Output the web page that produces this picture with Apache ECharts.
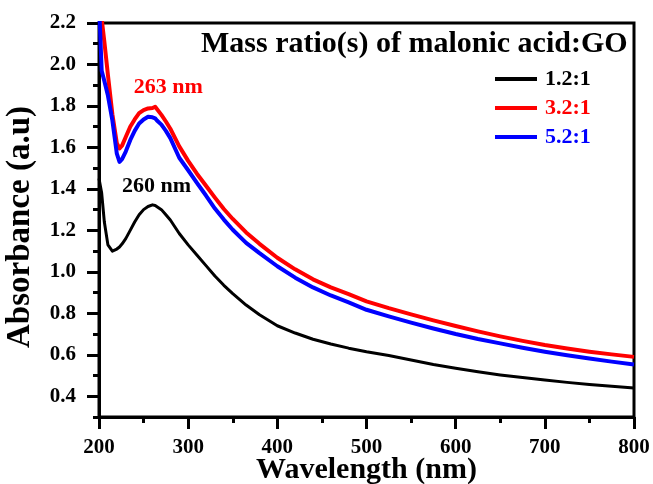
<!DOCTYPE html>
<html>
<head>
<meta charset="utf-8">
<script src="https://cdn.jsdelivr.net/npm/echarts@6/dist/echarts.min.js"></script>
<style>
  html, body { margin: 0; padding: 0; background: #fff; }
  #chart { width: 653px; height: 484px; }
</style>
</head>
<body>
<div id="chart"></div>
<script>
// UV-Vis absorbance spectra of GO treated with malonic acid at three mass ratios
const wavelengths = [200, 203, 206, 210, 215, 220, 223, 226, 230, 235, 240, 245, 250, 255, 260, 263, 265, 270, 275, 280,
  290, 300, 310, 320, 330, 340, 350, 365, 380, 400, 420, 440, 460, 480, 500, 525, 550, 575, 600,
  625, 650, 675, 700, 725, 750, 775, 800];

const absorbance_1_2 = [1.45, 1.38, 1.24, 1.13, 1.10, 1.11, 1.12, 1.135, 1.16, 1.20, 1.24, 1.275, 1.30, 1.315, 1.323, 1.32, 1.315, 1.30, 1.275, 1.25,
  1.185, 1.13, 1.08, 1.03, 0.98, 0.935, 0.895, 0.84, 0.793, 0.74, 0.705, 0.675, 0.652, 0.632, 0.615, 0.597, 0.575, 0.553, 0.535,
  0.518, 0.503, 0.49, 0.478, 0.467, 0.457, 0.448, 0.44];

const absorbance_3_2 = [2.40, 2.22, 2.11, 1.95, 1.76, 1.62, 1.595, 1.61, 1.65, 1.70, 1.735, 1.765, 1.78, 1.788, 1.79, 1.796, 1.787, 1.757, 1.725, 1.69,
  1.605, 1.535, 1.472, 1.415, 1.358, 1.303, 1.255, 1.19, 1.135, 1.068, 1.012, 0.964, 0.925, 0.893, 0.858, 0.825, 0.795, 0.766, 0.739,
  0.713, 0.689, 0.667, 0.647, 0.630, 0.615, 0.602, 0.59];

const absorbance_5_2 = [2.30, 1.97, 1.92, 1.85, 1.73, 1.57, 1.53, 1.545, 1.58, 1.635, 1.68, 1.715, 1.735, 1.748, 1.745, 1.74, 1.73, 1.71, 1.68, 1.645,
  1.55, 1.49, 1.428, 1.368, 1.305, 1.252, 1.203, 1.14, 1.09, 1.027, 0.972, 0.925, 0.886, 0.853, 0.817, 0.785, 0.755, 0.727, 0.70,
  0.676, 0.655, 0.634, 0.615, 0.598, 0.582, 0.567, 0.553];

const seriesNames = ['1.2:1', '3.2:1', '5.2:1'];
const seriesColors = ['#000000', '#ff0000', '#0000ff'];

// peak annotations: [wavelength, absorbance]
const peak_1_2 = [260, 1.323];
const peak_3_2 = [263, 1.796];

// y-axis tick values
const yMajorTicks = [0.4, 0.6, 0.8, 1.0, 1.2, 1.4, 1.6, 1.8, 2.0, 2.2];
const yMinorTicks = [0.3, 0.5, 0.7, 0.9, 1.1, 1.3, 1.5, 1.7, 1.9, 2.1];

const FONT = "'Liberation Serif', 'Times New Roman', serif";

function pairs(xs, ys) {
  return xs.map((x, i) => [x, ys[i]]);
}

const chart = echarts.init(document.getElementById('chart'), null, { renderer: 'canvas' });

function lineSeries(name, values, color, width, z) {
  return {
    name: name,
    type: 'line',
    data: pairs(wavelengths, values),
    symbol: 'none',
    showSymbol: false,
    smooth: false,
    clip: true,
    z: z,
    lineStyle: { color: color, width: width, join: 'round' },
    itemStyle: { color: color }
  };
}

const s1 = lineSeries(seriesNames[0], absorbance_1_2, seriesColors[0], 3, 2);
s1.markPoint = {
  symbol: 'circle', symbolSize: 0,
  data: [{ coord: peak_1_2 }],
  label: {
    show: true, position: 'inside', offset: [4, -19],
    formatter: () => peak_1_2[0] + ' nm',
    color: '#000', fontFamily: FONT, fontWeight: 'bold', fontSize: 22
  }
};
const s2 = lineSeries(seriesNames[1], absorbance_3_2, seriesColors[1], 4, 3);
s2.markPoint = {
  symbol: 'circle', symbolSize: 0,
  data: [{ coord: peak_3_2 }],
  label: {
    show: true, position: 'inside', offset: [13, -19],
    formatter: () => peak_3_2[0] + ' nm',
    color: '#ff0000', fontFamily: FONT, fontWeight: 'bold', fontSize: 22
  }
};
const s3 = lineSeries(seriesNames[2], absorbance_5_2, seriesColors[2], 4, 4);

const option = {
  backgroundColor: '#ffffff',
  animation: false,
  textStyle: { fontFamily: FONT },
  title: {
    text: 'Mass ratio(s) of malonic acid:GO',
    left: 201, top: 29, padding: 0,
    textStyle: { fontFamily: FONT, fontWeight: 'bold', fontSize: 30, color: '#000' }
  },
  legend: {
    orient: 'vertical',
    left: 490, top: 63,
    itemWidth: 42, itemHeight: 4, itemGap: 7,
    icon: 'rect',
    itemStyle: { borderWidth: 0 },
    data: seriesNames.map((n, i) => ({
      name: n,
      itemStyle: { color: seriesColors[i] },
      textStyle: { color: seriesColors[i] }
    })),
    textStyle: { fontFamily: FONT, fontWeight: 'bold', fontSize: 22, padding: [0, 0, 0, 3] }
  },
  grid: {
    left: 99, right: 19, top: 23, bottom: 67,
    outerBoundsMode: 'none',
    containLabel: false,
    show: true, borderColor: '#000', borderWidth: 3, backgroundColor: 'transparent'
  },
  xAxis: {
    type: 'value',
    min: 200, max: 800, interval: 100,
    name: 'Wavelength (nm)',
    nameLocation: 'middle', nameGap: 38,
    nameMoveOverlap: false,
    nameTextStyle: { fontFamily: FONT, fontWeight: 'bold', fontSize: 30, color: '#000' },
    axisLine: { show: true, lineStyle: { color: '#000', width: 3 } },
    axisTick: { show: true, length: 12, lineStyle: { color: '#000', width: 3 } },
    minorTick: { show: true, splitNumber: 2, length: 6, lineStyle: { color: '#000', width: 3 } },
    axisLabel: { margin: 20, fontFamily: FONT, fontWeight: 'bold', fontSize: 21, color: '#000' },
    splitLine: { show: false },
    minorSplitLine: { show: false }
  },
  yAxis: [{
    type: 'value',
    min: 0.3, max: 2.2,
    name: 'Absorbance (a.u)',
    nameLocation: 'middle', nameGap: 62,
    nameMoveOverlap: false,
    nameTextStyle: { fontFamily: FONT, fontWeight: 'bold', fontSize: 33, color: '#000', padding: [0, 14, 0, 0] },
    axisLine: { show: true, lineStyle: { color: '#000', width: 3 } },
    axisTick: { show: true, length: 12, customValues: yMajorTicks, lineStyle: { color: '#000', width: 3 } },
    axisLabel: {
      margin: 23, customValues: yMajorTicks,
      formatter: v => v.toFixed(1),
      fontFamily: FONT, fontWeight: 'bold', fontSize: 21, color: '#000'
    },
    splitLine: { show: false }
  }, {
    type: 'value',
    position: 'left',
    min: 0.3, max: 2.2,
    axisLine: { show: false },
    axisTick: { show: true, length: 6, customValues: yMinorTicks, lineStyle: { color: '#000', width: 3 } },
    axisLabel: { show: false },
    splitLine: { show: false }
  }],
  series: [s1, s2, s3]
};

chart.setOption(option);
</script>
</body>
</html>
